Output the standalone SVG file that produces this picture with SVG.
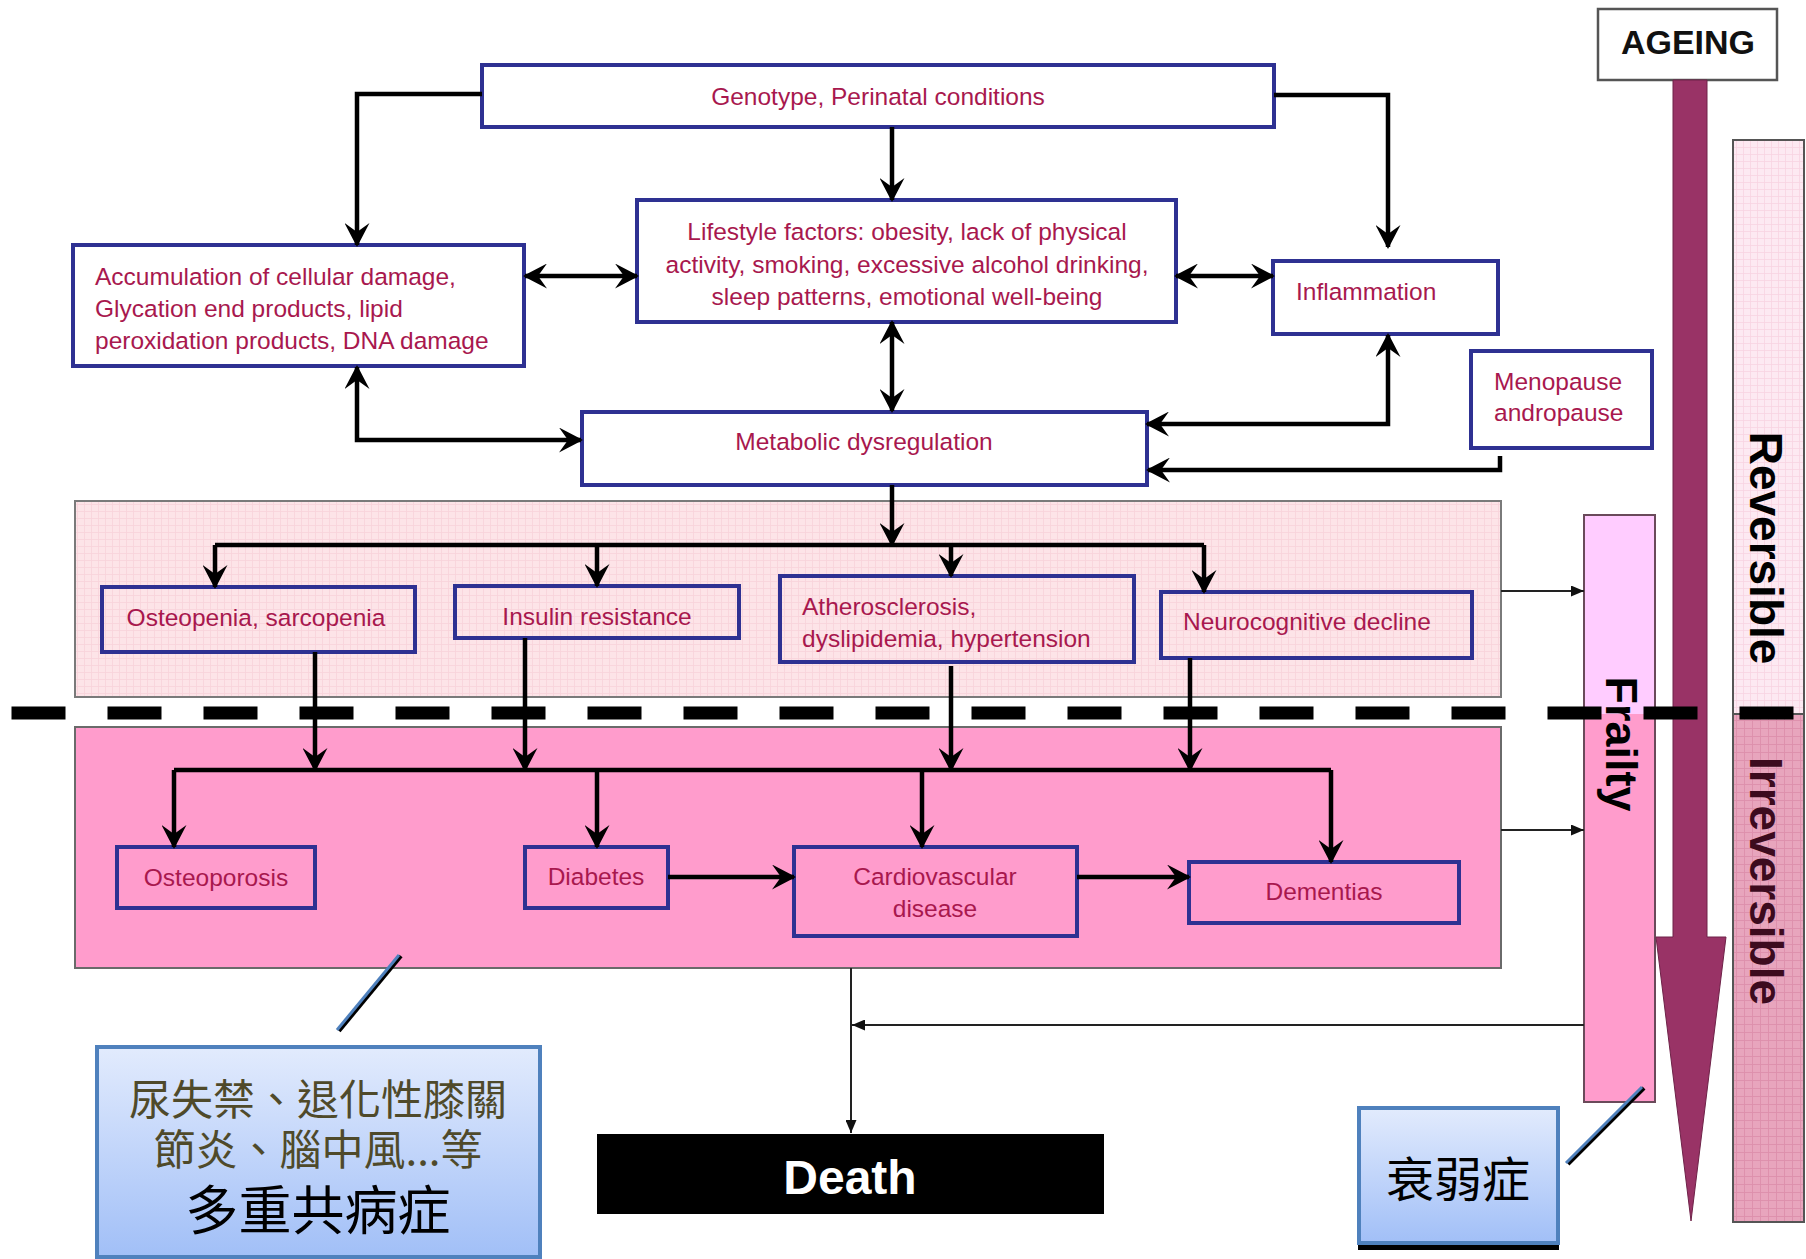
<svg xmlns="http://www.w3.org/2000/svg" width="1806" height="1259" viewBox="0 0 1806 1259">
<defs>
<style>
.box{fill:#fff;stroke:#2e3192;stroke-width:4}
.boxt{fill:none;stroke:#2e3192;stroke-width:4}
.lbl{font-family:"Liberation Sans",Arial,sans-serif;font-size:24.5px;fill:#a8184e}
.mid{text-anchor:middle}
.c{fill:none;stroke:#000;stroke-width:4.5}
.cd{fill:none;stroke:#000;stroke-width:4.5;marker-end:url(#ah)}
.cb{fill:none;stroke:#000;stroke-width:4.5;marker-end:url(#ah);marker-start:url(#ah)}
.t{fill:none;stroke:#222;stroke-width:2;marker-end:url(#sa)}
.big{font-family:"Liberation Sans",Arial,sans-serif;font-weight:bold}
.cjk{font-family:"Noto Sans CJK TC","Noto Sans CJK SC",sans-serif;text-anchor:middle}
</style>
<marker id="ah" viewBox="0 0 24 25" refX="22" refY="12.5" markerWidth="24" markerHeight="25" markerUnits="userSpaceOnUse" orient="auto-start-reverse">
<path d="M0,0 L24,12.5 L0,25 L9,12.5 Z" fill="#000"/>
</marker>
<marker id="sa" viewBox="0 0 13 11" refX="13" refY="5.5" markerWidth="13" markerHeight="11" markerUnits="userSpaceOnUse" orient="auto">
<path d="M0,0 L13,5.5 L0,11 Z" fill="#111"/>
</marker>
<pattern id="gA" width="7" height="7" patternUnits="userSpaceOnUse">
<rect width="7" height="7" fill="#fde4e8"/>
<path d="M0,0.5 H7 M0.5,0 V7" stroke="#f8d3da" stroke-width="0.8"/>
</pattern>
<pattern id="gR" width="7" height="7" patternUnits="userSpaceOnUse">
<rect width="7" height="7" fill="#fde9f2"/>
<path d="M0,0.5 H7 M0.5,0 V7" stroke="#f7d3e2" stroke-width="0.8"/>
</pattern>
<pattern id="gI" width="8" height="8" patternUnits="userSpaceOnUse">
<rect width="8" height="8" fill="#e8a5bd"/>
<path d="M0,0.5 H8 M0.5,0 V8" stroke="#dc8eab" stroke-width="0.9"/>
</pattern>
<linearGradient id="blue" x1="0" y1="0" x2="0" y2="1">
<stop offset="0" stop-color="#e2ebfd"/>
<stop offset="1" stop-color="#a1bff7"/>
</linearGradient>
</defs>
<rect width="1806" height="1259" fill="#fff"/>

<!-- bands -->
<g id="band-reversible-zone">
<rect x="75" y="501" width="1426" height="196" fill="url(#gA)" stroke="#7a7a7a" stroke-width="2"/>
</g>
<g id="band-irreversible-zone">
<rect x="75" y="727" width="1426" height="241" fill="#ff9ccc" stroke="#6a6a6a" stroke-width="2"/>
</g>

<!-- right side bars -->
<g id="reversible">
<rect x="1733" y="140" width="71" height="574" fill="url(#gR)" stroke="#555" stroke-width="2"/>
<text class="big" font-size="46" text-anchor="middle" transform="translate(1750,548) rotate(90)" fill="#000">Reversible</text>
</g>
<g id="irreversible">
<rect x="1733" y="714" width="71" height="508" fill="url(#gI)" stroke="#555" stroke-width="2"/>
<text class="big" font-size="46" text-anchor="middle" transform="translate(1750,881) rotate(90)" fill="#3d0b1e">Irreversible</text>
</g>
<g id="frailty">
<rect x="1584" y="515" width="71" height="199" fill="#ffccff"/>
<rect x="1584" y="714" width="71" height="388" fill="#ff9ccc"/>
<rect x="1584" y="515" width="71" height="587" fill="none" stroke="#6a4a5a" stroke-width="2"/>
<text class="big" font-size="45" text-anchor="middle" transform="translate(1606,744) rotate(90)" fill="#000">Frailty</text>
</g>
<g id="ageing">
<rect x="1598" y="9" width="179" height="71" fill="#fff" stroke="#555" stroke-width="2.5"/>
<text class="big" font-size="34" x="1688" y="54" text-anchor="middle" fill="#111">AGEING</text>
<path d="M1673,80 H1707 V937 H1726 L1691,1221 L1656,937 H1673 Z" fill="#993366" stroke="#6e2248" stroke-width="1"/>
</g>

<!-- dashed divider -->
<line x1="11.5" y1="713" x2="1794" y2="713" stroke="#000" stroke-width="13" stroke-dasharray="54 42"/>

<!-- nodes -->
<g id="genotype">
<rect class="box" x="482" y="65" width="792" height="62"/>
<text class="lbl mid" x="878" y="105">Genotype, Perinatal conditions</text>
</g>
<g id="lifestyle">
<rect class="box" x="637" y="200" width="539" height="122"/>
<text class="lbl mid" x="907" y="240">Lifestyle factors: obesity, lack of physical</text>
<text class="lbl mid" x="907" y="272.5">activity, smoking, excessive alcohol drinking,</text>
<text class="lbl mid" x="907" y="305">sleep patterns, emotional well-being</text>
</g>
<g id="accumulation">
<rect class="box" x="73" y="245" width="451" height="121"/>
<text class="lbl" x="95" y="285">Accumulation of cellular damage,</text>
<text class="lbl" x="95" y="317">Glycation end products, lipid</text>
<text class="lbl" x="95" y="349">peroxidation products, DNA damage</text>
</g>
<g id="inflammation">
<rect class="box" x="1273" y="261" width="225" height="73"/>
<text class="lbl" x="1296" y="300">Inflammation</text>
</g>
<g id="menopause">
<rect class="box" x="1471" y="351" width="181" height="97"/>
<text class="lbl" x="1494" y="390">Menopause</text>
<text class="lbl" x="1494" y="421">andropause</text>
</g>
<g id="metabolic">
<rect class="box" x="582" y="412" width="565" height="73"/>
<text class="lbl mid" x="864" y="450">Metabolic dysregulation</text>
</g>
<g id="osteopenia">
<rect class="boxt" x="102" y="587" width="313" height="65"/>
<text class="lbl mid" x="256" y="626">Osteopenia, sarcopenia</text>
</g>
<g id="insulin">
<rect class="boxt" x="455" y="586" width="284" height="52"/>
<text class="lbl mid" x="597" y="625">Insulin resistance</text>
</g>
<g id="atherosclerosis">
<rect class="boxt" x="780" y="576" width="354" height="86"/>
<text class="lbl" x="802" y="615">Atherosclerosis,</text>
<text class="lbl" x="802" y="647">dyslipidemia, hypertension</text>
</g>
<g id="neurocognitive">
<rect class="boxt" x="1161" y="592" width="311" height="66"/>
<text class="lbl" x="1183" y="630">Neurocognitive decline</text>
</g>
<g id="osteoporosis">
<rect class="boxt" x="117" y="847" width="198" height="61"/>
<text class="lbl mid" x="216" y="886">Osteoporosis</text>
</g>
<g id="diabetes">
<rect class="boxt" x="525" y="847" width="143" height="61"/>
<text class="lbl mid" x="596" y="885">Diabetes</text>
</g>
<g id="cardiovascular">
<rect class="boxt" x="794" y="847" width="283" height="89"/>
<text class="lbl mid" x="935" y="885">Cardiovascular</text>
<text class="lbl mid" x="935" y="917">disease</text>
</g>
<g id="dementias">
<rect class="boxt" x="1189" y="862" width="270" height="61"/>
<text class="lbl mid" x="1324" y="900">Dementias</text>
</g>
<g id="death">
<rect x="597" y="1134" width="507" height="80" fill="#000"/>
<text class="big" font-size="48" x="850" y="1194" text-anchor="middle" fill="#fff">Death</text>
</g>

<!-- connectors -->
<g id="connectors">
<path class="cd" d="M482,94 H357 V245"/>
<path class="cd" d="M892,127 V200"/>
<path class="cd" d="M1274,95 H1388 V247"/>
<path class="cb" d="M525,276 H637"/>
<path class="cb" d="M1176,276 H1273"/>
<path class="cb" d="M892,322 V411"/>
<path class="cb" d="M357,367 V440 H581"/>
<path class="cb" d="M1147,424 H1388 V335"/>
<path class="cd" d="M1500,456 V470 H1148"/>
<path class="cd" d="M892,485 V545"/>
<path class="c" d="M215,545 H1204"/>
<path class="cd" d="M215,545 V587"/>
<path class="cd" d="M597,545 V586"/>
<path class="cd" d="M951,545 V576"/>
<path class="cd" d="M1204,545 V592"/>
<path class="cd" d="M315,652 V770"/>
<path class="cd" d="M525,638 V770"/>
<path class="cd" d="M951,666 V770"/>
<path class="cd" d="M1190,658 V770"/>
<path class="c" d="M174,770 H1331"/>
<path class="cd" d="M174,770 V847"/>
<path class="cd" d="M597,770 V847"/>
<path class="cd" d="M922,770 V847"/>
<path class="cd" d="M1331,770 V862"/>
<path class="cd" d="M668,877 H794"/>
<path class="cd" d="M1077,877 H1189"/>
<path class="t" d="M1501,591 H1584"/>
<path class="t" d="M1501,830 H1584"/>
<path class="t" d="M851,968 V1133"/>
<path class="t" d="M1584,1025 H852"/>
</g>

<!-- callouts -->
<g id="callout-multimorbidity">
<line x1="401" y1="956" x2="339" y2="1031" stroke="#000" stroke-width="4"/>
<line x1="399" y1="955" x2="337" y2="1030" stroke="#4f81bd" stroke-width="3"/>
<rect x="97" y="1047" width="443" height="210" fill="url(#blue)" stroke="#4f81bd" stroke-width="4"/>
<text class="cjk" x="318" y="1115" font-size="42" fill="#4f4a2a"><tspan x="318" y="1115">尿失禁、退化性膝關</tspan><tspan x="318" y="1165">節炎、腦中風...等</tspan><tspan x="318" y="1230" font-size="53" fill="#000">多重共病症</tspan></text>
</g>
<g id="callout-frailty">
<line x1="1644" y1="1088" x2="1568" y2="1164" stroke="#000" stroke-width="4"/>
<line x1="1642" y1="1087" x2="1566" y2="1163" stroke="#4f81bd" stroke-width="3"/>
<rect x="1358" y="1245" width="201" height="5" fill="#000"/>
<rect x="1359" y="1108" width="199" height="135" fill="url(#blue)" stroke="#4f81bd" stroke-width="4"/>
<text class="cjk" x="1458" y="1197" font-size="48" fill="#000">衰弱症</text>
</g>
</svg>
